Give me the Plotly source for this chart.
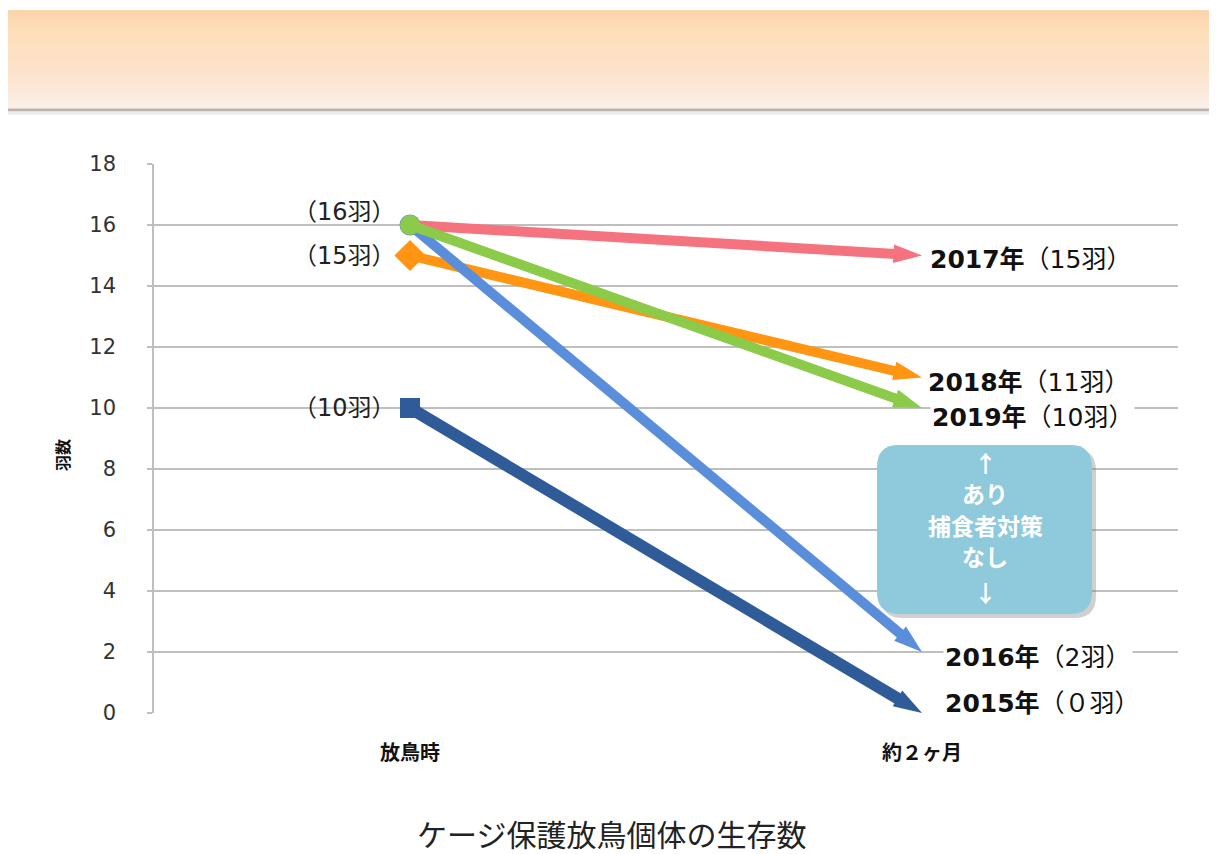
import plotly.graph_objects as go

# ---------------- data ----------------
categories = ['放鳥時', '約２ヶ月']
years = ['2015', '2016', '2017', '2018', '2019']
start_counts = [10, 16, 16, 15, 16]
end_counts = [0, 2, 15, 11, 10]
end_count_text = ['０', '2', '15', '11', '10']
y_ticks = [0, 2, 4, 6, 8, 10, 12, 14, 16, 18]
start_label_values = [16, 15, 10]
box_lines = ['↑', 'あり', '捕食者対策', 'なし', '↓']

# ---------------- styles ----------------
OFF = 8  # page body margin
W, H = 1217 - OFF, 854 - OFF
ML, MR, MT, MB = 154 - OFF, 39, 164 - OFF, 141
PW, PH = W - ML - MR, H - MT - MB

colors = {'2015': '#2F5C98', '2016': '#5A8EDA', '2017': '#F4737F',
          '2018': '#FF9512', '2019': '#8BCB49'}
start_symbol = {'2015': 'square', '2016': 'circle', '2017': 'circle',
                '2018': 'diamond', '2019': 'circle'}
start_size = {'2015': 20, '2016': 21, '2017': 19, '2018': 24, '2019': 20}
line_w = {'2015': 12, '2016': 10, '2017': 10, '2018': 10, '2019': 10}
draw_order = ['2015', '2018', '2016', '2017', '2019']
end_xshift = {'2015': 21, '2016': 21, '2017': 6, '2018': 4, '2019': 8}
end_yshift = {'2015': 10, '2016': -5, '2017': -4, '2018': -5, '2019': -9}
start_yshift = {16: 13, 15: 0, 10: 0}
box_line_py = [462, 493, 525, 556, 592]

JP = 'Noto Sans CJK JP'
MIX = 'DejaVu Sans, Noto Sans CJK JP'


def px(x):
    return (x - OFF - ML) / PW


def py(y):
    return (H - MB - (y - OFF)) / PH


fig = go.Figure()

for yr in draw_order:
    i = years.index(yr)
    # line with arrow head at the end
    fig.add_trace(go.Scatter(
        x=categories,
        y=[start_counts[i], end_counts[i]],
        mode='lines+markers',
        line=dict(color=colors[yr], width=line_w[yr]),
        marker=dict(symbol=['circle', 'arrow'], size=[0, 30],
                    angleref='previous', color=colors[yr], opacity=1,
                    line=dict(width=0)),
        name=yr + '年', showlegend=False, hoverinfo='skip'))
    # start marker
    fig.add_trace(go.Scatter(
        x=[categories[0]], y=[start_counts[i]], mode='markers',
        marker=dict(symbol=start_symbol[yr], size=start_size[yr],
                    color=colors[yr], opacity=1, line=dict(width=0)),
        showlegend=False, hoverinfo='skip'))

annotations = []
# end labels
for i, yr in enumerate(years):
    annotations.append(dict(
        x=categories[1], y=end_counts[i], xref='x', yref='y',
        text=f'<b>{yr}年</b>（{end_count_text[i]}羽）',
        showarrow=False, xanchor='left', yanchor='middle',
        xshift=end_xshift[yr], yshift=end_yshift[yr],
        bgcolor='white', borderpad=1,
        font=dict(family=MIX, size=25, color='#111111')))

# start labels
for v in start_label_values:
    annotations.append(dict(
        x=categories[0], y=v, xref='x', yref='y',
        text=f'（{v}羽）', showarrow=False,
        xanchor='right', yanchor='middle', xshift=-12, yshift=start_yshift[v],
        font=dict(family=MIX, size=24, color='#222222')))

# box text, one line per annotation
for txt, yy in zip(box_lines, box_line_py):
    annotations.append(dict(
        x=px(985), y=py(yy), xref='paper', yref='paper',
        text=txt, showarrow=False,
        xanchor='center', yanchor='middle',
        font=dict(family=JP, size=23, color='white', weight='bold')))

# y axis title
annotations.append(dict(
    x=px(62), y=py(455), xref='paper', yref='paper',
    text='<b>羽数</b>', showarrow=False, textangle=-90,
    xanchor='center', yanchor='middle',
    font=dict(family=JP, size=16, color='#111111')))

# chart title
annotations.append(dict(
    x=px(611), y=py(833), xref='paper', yref='paper',
    text='ケージ保護放鳥個体の生存数', showarrow=False,
    xanchor='center', yanchor='middle',
    font=dict(family=JP, size=30, color='#222222')))

shapes = []
# header gradient band (stripes)
stops = [(10, (252, 211, 172)), (30, (254, 222, 184)), (75, (252, 227, 205)),
         (108, (251, 240, 233))]
n = 50
for k in range(n):
    y0 = 10 + (108 - 10) * k / n
    y1 = 10 + (108 - 10) * (k + 1) / n + 0.6
    ym = (y0 + y1) / 2
    for j in range(len(stops) - 1):
        if stops[j][0] <= ym <= stops[j + 1][0]:
            t = (ym - stops[j][0]) / (stops[j + 1][0] - stops[j][0])
            c = tuple(round(stops[j][1][m] + (stops[j + 1][1][m] - stops[j][1][m]) * t)
                      for m in range(3))
            break
    else:
        c = stops[-1][1]
    shapes.append(dict(type='rect', xref='paper', yref='paper',
                       x0=px(8), x1=px(1217), y0=py(y0), y1=py(y1),
                       fillcolor=f'rgb{c}', line=dict(width=0), layer='below'))
shapes.append(dict(type='line', xref='paper', yref='paper',
                   x0=px(8), x1=px(1217), y0=py(110), y1=py(110),
                   line=dict(color='#BDB3AE', width=3)))
shapes.append(dict(type='line', xref='paper', yref='paper',
                   x0=px(8), x1=px(1217), y0=py(113), y1=py(113),
                   line=dict(color='#EEEAE8', width=3)))


def rrect(x0, y0, x1, y1, r):
    def P(x, y):
        return f'{px(x):.5f},{py(y):.5f}'
    return (f'M {P(x0 + r, y0)} L {P(x1 - r, y0)} Q {P(x1, y0)} {P(x1, y0 + r)} '
            f'L {P(x1, y1 - r)} Q {P(x1, y1)} {P(x1 - r, y1)} '
            f'L {P(x0 + r, y1)} Q {P(x0, y1)} {P(x0, y1 - r)} '
            f'L {P(x0, y0 + r)} Q {P(x0, y0)} {P(x0 + r, y0)} Z')


shapes.append(dict(type='path', xref='paper', yref='paper',
                   path=rrect(881, 449, 1096, 618, 22),
                   fillcolor='rgba(120,120,120,0.35)', line=dict(width=0)))
shapes.append(dict(type='path', xref='paper', yref='paper',
                   path=rrect(877, 445, 1092, 614, 22),
                   fillcolor='#8ECADB', line=dict(width=0)))

fig.update_layout(
    width=W, height=H,
    margin=dict(l=ML, r=MR, t=MT, b=MB),
    paper_bgcolor='white', plot_bgcolor='white',
    showlegend=False,
    shapes=shapes, annotations=annotations,
    xaxis=dict(type='category', range=[-0.5, 1.5], showgrid=False,
               zeroline=False, showline=False, ticks='',
               ticklabelstandoff=26,
               tickfont=dict(family=JP, size=20, color='#111111', weight='bold')),
    yaxis=dict(range=[0, 18], tickvals=y_ticks, showgrid=True,
               gridcolor='#BFBFBF', gridwidth=1.5, zeroline=False,
               showline=True, linecolor='#BFBFBF', linewidth=1.5,
               ticks='outside', ticklen=5, tickcolor='#BFBFBF', tickwidth=1.5,
               ticklabelstandoff=27,
               tickfont=dict(family='DejaVu Sans', size=21, color='#333333')),
)

fig.write_html('out.html')
